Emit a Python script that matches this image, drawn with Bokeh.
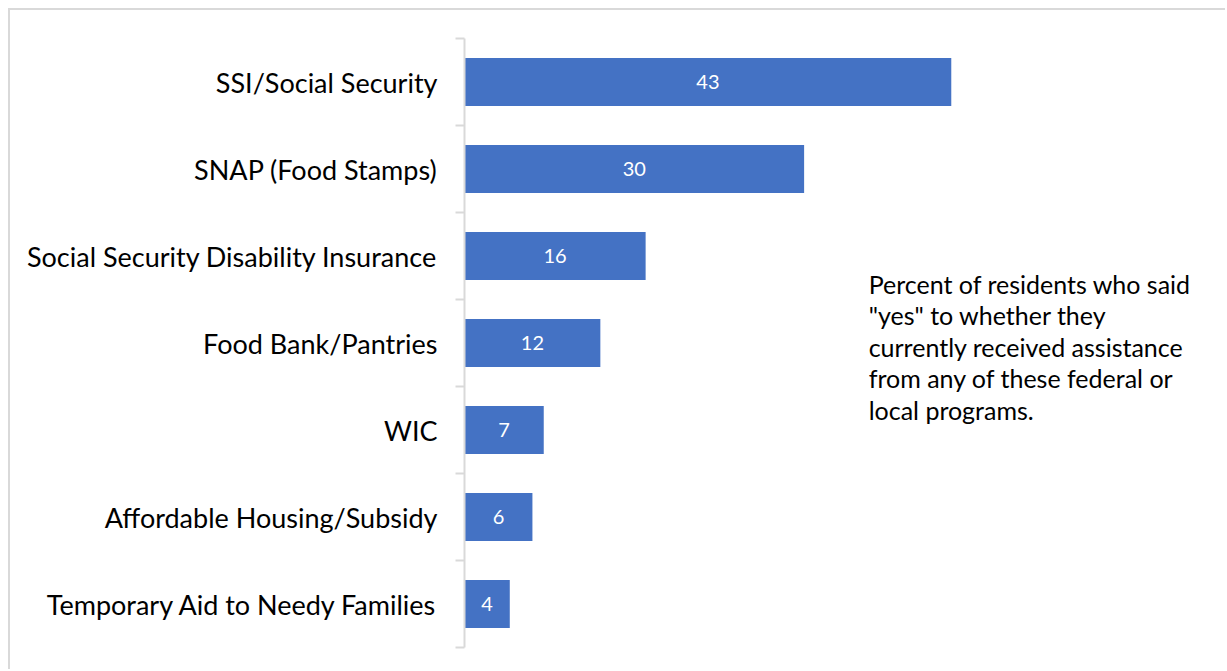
from bokeh.plotting import figure
from bokeh.models import ColumnDataSource, Range1d, LinearAxis, FixedTicker, Label
from bokeh.core.properties import value
from bokeh.embed import file_html
from bokeh.resources import INLINE

# Share of residents receiving each kind of assistance (percent)
programs = [
    "SSI/Social Security",
    "SNAP (Food Stamps)",
    "Social Security Disability Insurance",
    "Food Bank/Pantries",
    "WIC",
    "Affordable Housing/Subsidy",
    "Temporary Aid to Needy Families",
]
percent = [43, 30, 16, 12, 7, 6, 4]

note = ('Percent of residents who said\n"yes" to whether they\n'
        'currently received assistance\nfrom any of these federal or\nlocal programs.')

BAR = "#4472C4"
GRID = "#D9D9D9"
FONT = "Lato"

n = len(programs)
# one slot per program, first program in the top slot
slot = [n - 1 - i + 0.5 for i in range(n)]

src = ColumnDataSource(dict(
    program=programs,
    slot=slot,
    pct=percent,
    mid=[v / 2 for v in percent],
    lbl=[str(v) for v in percent],
))

p = figure(width=1217, height=661, y_range=Range1d(0, n),
           x_range=Range1d(0, 66.34), output_backend="svg", toolbar_location=None,
           x_axis_location=None, y_axis_location=None,
           min_border_left=454, min_border_right=12, min_border_top=28, min_border_bottom=24)
p.outline_line_color = None
p.xgrid.visible = False
p.ygrid.visible = False
p.background_fill_color = "white"
p.border_fill_color = "white"
# light frame around the chart area
p.margin = (8, 0, 0, 8)
p.styles = {"border-top": "2px solid #D9D9D9", "border-left": "2px solid #D9D9D9"}

# names centred on each slot, small ticks on the slot boundaries
y_axis = LinearAxis(ticker=FixedTicker(ticks=slot, minor_ticks=list(range(n + 1))),
                    major_label_overrides={s: name for s, name in zip(slot, programs)},
                    axis_line_color=GRID, axis_line_width=2,
                    major_tick_line_color=None, major_tick_out=0, major_tick_in=0,
                    minor_tick_line_color=GRID, minor_tick_line_width=2,
                    minor_tick_out=9, minor_tick_in=0,
                    major_label_standoff=18,
                    major_label_text_font=FONT,
                    major_label_text_font_size="27px",
                    major_label_text_color="#000000")
p.add_layout(y_axis, "left")

p.hbar(y="slot", right="pct", left=0, height=0.55, source=src,
       fill_color=BAR, line_color=None)

p.text(x="mid", y="slot", text="lbl", source=src, text_color="white",
       text_font=value(FONT), text_font_size="20px",
       text_align="center", text_baseline="middle")

p.add_layout(Label(x=35.7, y=4.354, text=note, text_font=FONT, text_font_size="25px",
                   text_color="#000000", text_baseline="top", text_align="left",
                   text_line_height=1.05))

open("out.html", "w").write(file_html(p, INLINE))
